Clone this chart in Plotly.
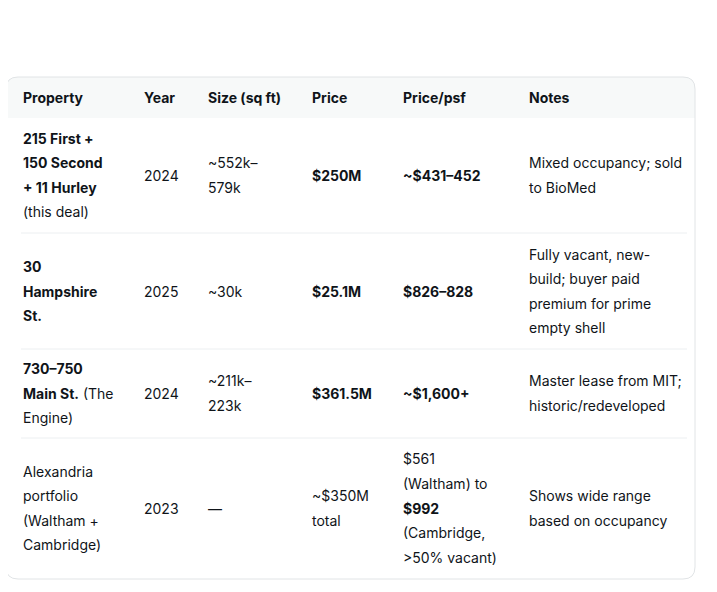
import plotly.graph_objects as go

title = "Recent Comparable Sales in Kendall Square / East Cambridge"
subtitle = "Here are key deals from 2024–2025:"

headers = ["Property", "Year", "Size (sq ft)", "Price", "Price/psf", "Notes"]
prop = ["<b>215 First +</b><br><b>150 Second</b><br><b>+ 11 Hurley</b><br>(this deal)",
        "<b>30</b><br><b>Hampshire</b><br><b>St.</b>",
        "<b>730–750</b><br><b>Main St.</b> (The<br>Engine)",
        "Alexandria<br>portfolio<br>(Waltham +<br>Cambridge)"]
year = ["2024", "2025", "2024", "2023"]
size = ["~552k–<br>579k", "~30k", "~211k–<br>223k", "—"]
price = ["<b>$250M</b>", "<b>$25.1M</b>", "<b>$361.5M</b>", "~$350M<br>total"]
psf = ["<b>~$431–452</b>", "<b>$826–828</b>", "<b>~$1,600+</b>",
       "$561<br>(Waltham) to<br><b>$992</b><br>(Cambridge,<br>>50% vacant)"]
notes = ["Mixed occupancy; sold<br>to BioMed",
         "Fully vacant, new-<br>build; buyer paid<br>premium for prime<br>empty shell",
         "Master lease from MIT;<br>historic/redeveloped",
         "Shows wide range<br>based on occupancy"]

col_x = [22, 143, 207, 311, 402, 528]
row_mid = [175, 291, 393, 508]
row_lines = [118, 233, 349, 438]
line_h = 24.6
ink = "#0f1419"
font = "Inter, Open Sans, sans-serif"

# page body adds ~8px padding; shift the axes so pixels line up with the reference
off_x, off_y = 9, 8

fig = go.Figure()
ann = []
ann.append(dict(x=6, y=20, text="<b>" + title + "</b>", font=dict(size=17.5, color=ink)))
ann.append(dict(x=6, y=56, text=subtitle, font=dict(size=14, color=ink)))
for h, x in zip(headers, col_x):
    ann.append(dict(x=x, y=97, text="<b>" + h + "</b>", font=dict(size=14, color=ink)))

columns = [prop, year, size, price, psf, notes]
for c, x in zip(columns, col_x):
    for r, cell in enumerate(c):
        lines = cell.split("<br>")
        n = len(lines)
        for i, ln in enumerate(lines):
            y = row_mid[r] + (i - (n - 1) / 2) * line_h
            ann.append(dict(x=x, y=y, text=ln, font=dict(size=14, color=ink)))

for a in ann:
    a.update(xref="x", yref="y", xanchor="left", yanchor="middle", showarrow=False)
    a["font"]["family"] = font

shapes = [
    dict(type="path", path="M 19 77 L 684 77 Q 696 77 696 89 L 696 118 L 7 118 L 7 89 Q 7 77 19 77 Z",
         fillcolor="#f7f9f9", line=dict(width=0), layer="below"),
    dict(type="path", path="M 19 77 L 684 77 Q 696 77 696 89 L 696 567 Q 696 579 684 579 L 19 579 Q 7 579 7 567 L 7 89 Q 7 77 19 77 Z",
         line=dict(color="#e1e4e6", width=1)),
]
for y in row_lines[1:]:
    shapes.append(dict(type="line", x0=22, x1=688, y0=y, y1=y, line=dict(color="#eceff1", width=1)))

fig.update_layout(
    width=717, height=592, margin=dict(l=0, r=0, t=0, b=0),
    paper_bgcolor="white", plot_bgcolor="white",
    xaxis=dict(range=[off_x, 717 + off_x], visible=False, fixedrange=True),
    yaxis=dict(range=[592 + off_y, off_y], visible=False, fixedrange=True),
    annotations=ann, shapes=shapes, showlegend=False,
)
fig.write_html("out.html")
